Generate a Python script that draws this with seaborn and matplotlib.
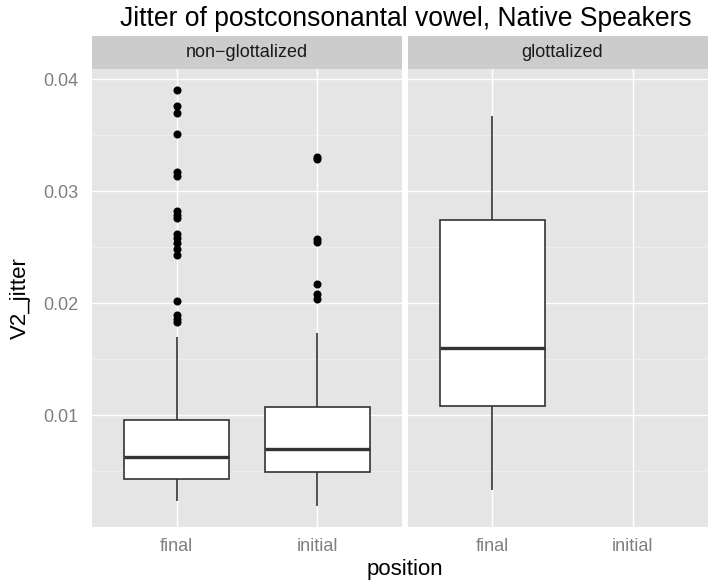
import numpy as np
import pandas as pd
import matplotlib
matplotlib.use("Agg")
import matplotlib.pyplot as plt
from matplotlib.ticker import FixedLocator
import seaborn as sns

sns.set_style("white")
plt.rcParams["font.family"] = ["Liberation Sans", "DejaVu Sans"]

positions = ["final", "initial"]
facets = ["non\u2212glottalized", "glottalized"]

# Box summaries per group: lower whisker, Q1, median, Q3, upper whisker
nonglott_final_box = [0.00231, 0.00428, 0.00629, 0.00955, 0.01696]
nonglott_initial_box = [0.00183, 0.00488, 0.00700, 0.01069, 0.01737]
glott_final_box = [0.00332, 0.01085, 0.01596, 0.02746, 0.03670]

# Outlying observations
nonglott_final_out = [0.0390, 0.0376, 0.0370, 0.0351, 0.0317, 0.0314,
                      0.0282, 0.0279, 0.0276, 0.0262, 0.0258, 0.0254,
                      0.0248, 0.0243, 0.0202, 0.0189, 0.0186, 0.0183]
nonglott_initial_out = [0.0331, 0.0329, 0.0257, 0.0255, 0.0217,
                        0.0208, 0.0204]
glott_final_out = []

y_ticks = [0.01, 0.02, 0.03, 0.04]
y_tick_labels = ["0.01", "0.02", "0.03", "0.04"]
y_minor = [0.005, 0.015, 0.025, 0.035]


def frame(values, position):
    return pd.DataFrame({"position": position, "V2_jitter": values})


panels = [
    (pd.concat([frame(nonglott_final_box, "final"),
                frame(nonglott_initial_box, "initial")]),
     pd.concat([frame(nonglott_final_out, "final"),
                frame(nonglott_initial_out, "initial")])),
    (frame(glott_final_box, "final"),
     frame(glott_final_out, "final")),
]

W, H = 708, 583
fig = plt.figure(figsize=(W / 100, H / 100), dpi=100)


def rect(x0, y0, x1, y1):
    return [x0 / W, 1 - y1 / H, (x1 - x0) / W, (y1 - y0) / H]


panel_x = [(92, 402), (408, 717)]
top, bottom, strip_top = 69, 526.7, 36

grey50 = "#7F7F7F"
line_col = "#333333"

for i, ((x0, x1), (box_df, out_df), label) in enumerate(zip(panel_x, panels, facets)):
    ax = fig.add_axes(rect(x0, top, x1, bottom))
    ax.set_facecolor("#E5E5E5")
    sns.boxplot(data=box_df, x="position", y="V2_jitter", order=positions,
                ax=ax, width=0.75, color="white", saturation=1,
                linecolor=line_col, linewidth=1.2, showfliers=False,
                showcaps=False, whis=(0, 100),
                medianprops=dict(linewidth=2.4, color=line_col),
                zorder=3)
    if len(out_df):
        sns.stripplot(data=out_df, x="position", y="V2_jitter", order=positions,
                      ax=ax, jitter=False, color="black", size=5.8,
                      linewidth=0, zorder=4)
    ax.set_xlim(-0.6, 1.6)
    ax.set_ylim(0.00002, 0.04092)
    ax.yaxis.set_major_locator(FixedLocator(y_ticks))
    ax.yaxis.set_minor_locator(FixedLocator(y_minor))
    ax.grid(True, which="major", color="white", linewidth=1.0)
    ax.grid(True, which="minor", axis="y", color="#F2F2F2", linewidth=0.5)
    ax.set_axisbelow(True)
    for s in ax.spines.values():
        s.set_visible(False)
    ax.set_xlabel("")
    ax.set_ylabel("")
    ax.tick_params(axis="x", which="major", length=3.5, width=0.8, color=grey50,
                   labelcolor=grey50, labelsize=13, pad=4.5)
    ax.tick_params(axis="y", which="minor", length=0)
    if i == 0:
        ax.tick_params(axis="y", which="major", length=4.5, width=0.8,
                       color=grey50, labelcolor=grey50, labelsize=13, pad=5)
        ax.set_yticklabels(y_tick_labels)
    else:
        ax.tick_params(axis="y", which="major", length=0, labelleft=False)

    sax = fig.add_axes(rect(x0, strip_top, x1, top))
    sax.set_facecolor("#CCCCCC")
    sax.set_xticks([])
    sax.set_yticks([])
    for s in sax.spines.values():
        s.set_visible(False)
    sax.text(0.5, 0.5, label, transform=sax.transAxes, ha="center",
             va="center", fontsize=13, color="#1A1A1A")

fig.text(406 / W, 1 - 19 / H, "Jitter of postconsonantal vowel, Native Speakers",
         ha="center", va="center", fontsize=19.1, color="black")
fig.text(404.5 / W, 1 - 569 / H, "position", ha="center", va="center",
         fontsize=16, color="black")
fig.text(20 / W, 1 - 298 / H, "V2_jitter", ha="center", va="center",
         rotation=90, fontsize=16, color="black")

fig.savefig("out.png", dpi=100)
